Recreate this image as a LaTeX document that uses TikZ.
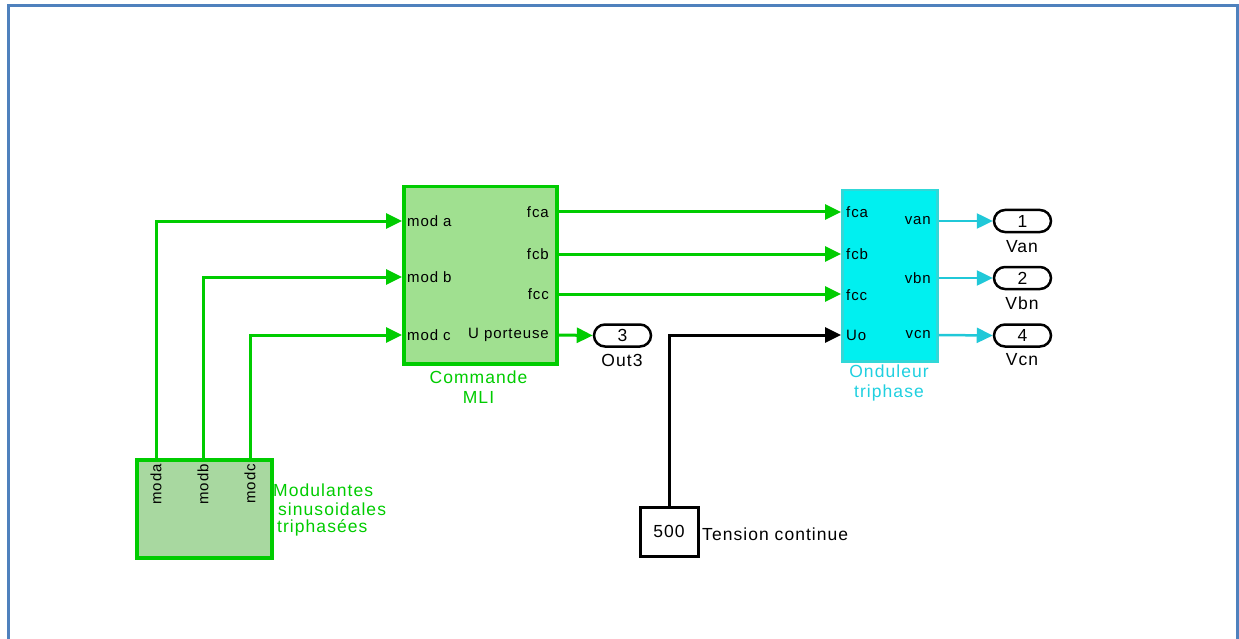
\documentclass[tikz,border=0pt]{standalone}
\usepackage{fontspec}
\setmainfont{Liberation Sans}
\usetikzlibrary{arrows.meta}
\definecolor{sgreen}{HTML}{00CC00}
\definecolor{mlifill}{HTML}{A0E090}
\definecolor{modfill}{HTML}{A8D8A0}
\definecolor{cyfill}{HTML}{00F0F0}
\definecolor{cyborder}{HTML}{30D8D8}
\definecolor{cyline}{HTML}{20C8D8}
\definecolor{cytext}{HTML}{20D0E0}
\definecolor{frameblue}{HTML}{4F81BD}
\newcommand{\myinnerfont}{\fontsize{15}{18}\selectfont\addfontfeature{LetterSpace=6}}
\newcommand{\myouterfont}{\fontsize{17.5}{19.5}\selectfont\addfontfeature{LetterSpace=6}}
\begin{document}
\begin{tikzpicture}[x=1pt,y=-1pt,
  blockbox/.style={draw, inner sep=0pt, anchor=north west},
  lbl/.style={inner sep=0pt, font=\myinnerfont},
  olbl/.style={inner sep=0pt, font=\myouterfont},
  tip/.style={-{Triangle[length=16pt,width=15pt]}},
  gline/.style={draw=sgreen, line width=3pt, tip},
  cline/.style={draw=cyline, line width=2.5pt, tip},
  kline/.style={draw=black, line width=3pt, tip},
  port/.style={draw, line width=2.5pt, rounded corners=11pt, minimum width=57pt, minimum height=22pt, inner sep=0pt, font=\myouterfont}
]
\useasboundingbox (0,0) rectangle (1239,639);
\fill[white] (0,0) rectangle (1239,639);
\draw[frameblue, line width=3pt] (8,640) -- (8,6) -- (1237,6) -- (1237,640);

% blocks
\node[blockbox, draw=sgreen, fill=mlifill, line width=3.5pt, minimum width=153pt, minimum height=177pt] (mli) at (402,185) {};
\node[blockbox, draw=sgreen, fill=modfill, line width=3.5pt, minimum width=135pt, minimum height=98pt] (mod) at (135,458) {};
\node[blockbox, draw=cyborder, fill=cyfill, line width=2.5pt, minimum width=95pt, minimum height=171pt] (ond) at (841,189) {};
\node[draw, line width=3pt, minimum width=58pt, minimum height=49pt, inner sep=0pt, font=\myouterfont] (cst) at (669,531.5) {500};

% ports
\node[port] (p3) at (622.5,335.5) {3};
\node[port] (p1) at (1022.5,221) {1};
\node[port] (p2) at (1022.5,278) {2};
\node[port] (p4) at (1022.5,335.5) {4};

% MLI labels
\node[lbl, anchor=west] (ma) at (407,221) {mod a};
\node[lbl, anchor=west] (mb) at (407,277) {mod b};
\node[lbl, anchor=west] (mc) at (407,335) {mod c};
\node[lbl, anchor=east] (fa) at (549,212) {fca};
\node[lbl, anchor=east] (fb) at (549,254) {fcb};
\node[lbl, anchor=east] (fc) at (549,294) {fcc};
\node[lbl, anchor=east] (up) at (549,335) {U porteuse};
\node[olbl, text=sgreen, align=center] (mlin) at (478.5,387) {Commande\\MLI};

% Modulantes labels
\node[lbl, rotate=90, anchor=east] (la) at (156,464) {moda};
\node[lbl, rotate=90, anchor=east] (lb) at (203,464) {modb};
\node[lbl, rotate=90, anchor=east] (lc) at (250,464) {modc};
\node[olbl, text=sgreen, anchor=west] (m1) at (273,490) {Modulantes};
\node[olbl, text=sgreen, anchor=west] (m2) at (278,509) {sinusoidales};
\node[olbl, text=sgreen, anchor=west] (m3) at (277,528) {triphasées};

% Onduleur labels
\node[lbl, anchor=west] (oa) at (846,212) {fca};
\node[lbl, anchor=west] (ob) at (846,254) {fcb};
\node[lbl, anchor=west] (oc) at (846,295) {fcc};
\node[lbl, anchor=west] (ou) at (846,335) {Uo};
\node[lbl, anchor=east] (va) at (931,221) {van};
\node[lbl, anchor=east] (vb) at (931,278) {vbn};
\node[lbl, anchor=east] (vc) at (931,335) {vcn};
\node[olbl, text=cytext, align=center] (ondn) at (889,383) {Onduleur\\triphase};

% port labels
\node[olbl] (o3) at (622,360) {Out3};
\node[olbl] (o1) at (1022,247) {Van};
\node[olbl] (o2) at (1022,303) {Vbn};
\node[olbl] (o4) at (1022,360) {Vcn};
\node[olbl, anchor=west] (tc) at (702,534) {Tension continue};

% connectors
\draw[gline] (mod.north -| la) |- (mli.west |- ma);
\draw[gline] (mod.north -| lb) |- (mli.west |- mb);
\draw[gline] (mod.north -| lc) |- (mli.west |- mc);
\draw[gline] (mli.east |- fa) -- (ond.west |- fa);
\draw[gline] (mli.east |- fb) -- (ond.west |- fb);
\draw[gline] (mli.east |- fc) -- (ond.west |- fc);
\draw[gline] (mli.east |- up) -- (p3.west);
\draw[kline] (cst.north) |- (ond.west |- ou);
\draw[cline] (ond.east |- va) -- (p1.west);
\draw[cline] (ond.east |- vb) -- (p2.west);
\draw[cline] (ond.east |- vc) -- (p4.west);
\end{tikzpicture}
\end{document}
